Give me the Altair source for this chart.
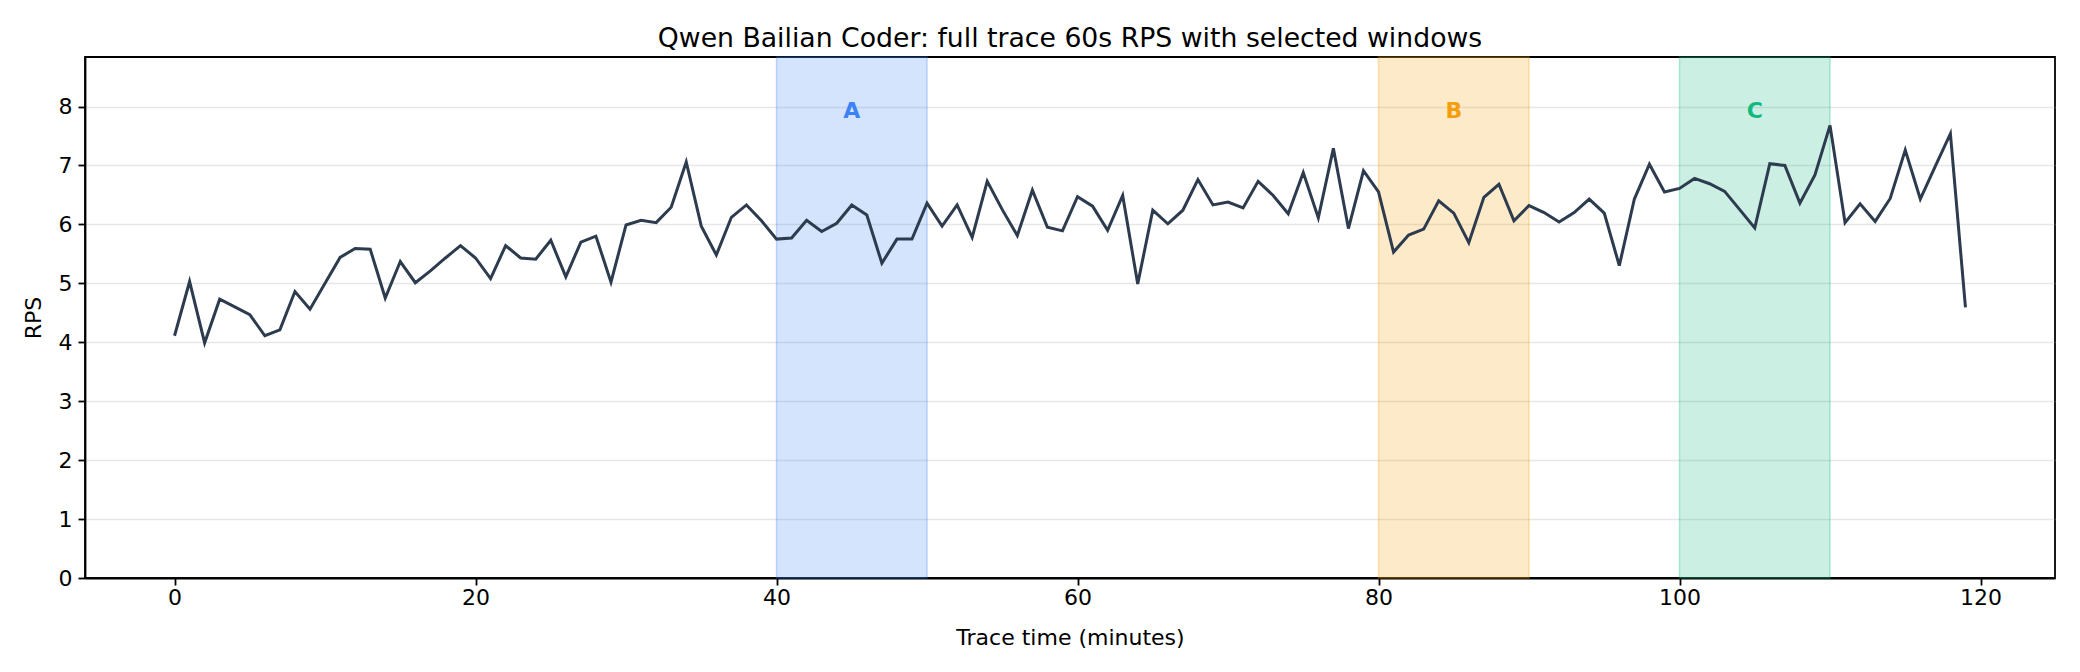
import altair as alt
import pandas as pd

# RPS per minute (60s buckets)
rps = [
    4.11, 5.03, 3.99, 4.73, 4.60, 4.47, 4.11, 4.21, 4.86, 4.56,
    5.00, 5.44, 5.59, 5.58, 4.75, 5.37, 5.01, 5.21, 5.43, 5.64,
    5.43, 5.08, 5.64, 5.43, 5.41, 5.73, 5.11, 5.70, 5.80, 5.02,
    5.99, 6.07, 6.03, 6.29, 7.06, 5.97, 5.48, 6.12, 6.33, 6.06,
    5.75, 5.77, 6.07, 5.88, 6.02, 6.33, 6.16, 5.34, 5.75, 5.75,
    6.36, 5.97, 6.33, 5.78, 6.73, 6.25, 5.81, 6.58, 5.95, 5.89,
    6.47, 6.31, 5.90, 6.49, 4.99, 6.24, 6.01, 6.24, 6.76, 6.33,
    6.38, 6.28, 6.73, 6.49, 6.18, 6.88, 6.11, 7.29, 5.93, 6.91,
    6.55, 5.53, 5.82, 5.92, 6.40, 6.19, 5.69, 6.46, 6.68, 6.06,
    6.32, 6.20, 6.04, 6.20, 6.43, 6.19, 5.30, 6.43, 7.02, 6.55,
    6.61, 6.78, 6.69, 6.56, 6.25, 5.94, 7.03, 7.00, 6.36, 6.84,
    7.68, 6.03, 6.35, 6.05, 6.44, 7.26, 6.43, 6.99, 7.54, 4.59,
]
minutes = list(range(len(rps)))

# selected windows
win_labels = ["A", "B", "C"]
win_start = [40, 80, 100]
win_end = [50, 90, 110]
win_colors = ["#3b82f6", "#f59e0b", "#10b981"]
win_label_y = [7.92, 7.92, 7.92]

Y_MAX = 8.84
X_DOMAIN = [-5.95, 124.95]

trace = pd.DataFrame({"minute": minutes, "rps": rps})
windows = pd.DataFrame({
    "label": win_labels,
    "start": win_start,
    "end": win_end,
    "mid": [(s + e) / 2 for s, e in zip(win_start, win_end)],
    "ypos": win_label_y,
})

x_scale = alt.Scale(domain=X_DOMAIN, nice=False, zero=False)
y_scale = alt.Scale(domain=[0, Y_MAX], nice=False)
color_scale = alt.Scale(domain=win_labels, range=win_colors)

spans = alt.Chart(windows).mark_rect(
    fillOpacity=0.22, strokeOpacity=0.3, strokeWidth=1.5
).encode(
    x=alt.X("start:Q", scale=x_scale),
    x2="end:Q",
    color=alt.Color("label:N", scale=color_scale, legend=None),
    stroke=alt.Stroke("label:N", scale=color_scale, legend=None),
)

line = alt.Chart(trace).mark_line(color="#2d3b4e", strokeWidth=3).encode(
    x=alt.X(
        "minute:Q", scale=x_scale, title="Trace time (minutes)",
        axis=alt.Axis(values=[0, 20, 40, 60, 80, 100, 120], grid=False, format="d",
                      labelPadding=2, titlePadding=19),
    ),
    y=alt.Y(
        "rps:Q", scale=y_scale, title="RPS",
        axis=alt.Axis(values=list(range(9)), grid=True, format="d",
                      labelPadding=6, titlePadding=13),
    ),
)

labels = alt.Chart(windows).mark_text(
    font="DejaVu Sans", fontSize=22, fontWeight="bold", baseline="middle", align="center"
).encode(
    x=alt.X("mid:Q", scale=x_scale),
    y=alt.Y("ypos:Q", scale=y_scale),
    text="label:N",
    color=alt.Color("label:N", scale=color_scale, legend=None),
)

chart = alt.layer(spans, line, labels).properties(
    width=1970,
    height=521,
    autosize=alt.AutoSizeParams(type="none"),
    padding={"left": 77, "top": 49, "right": 12, "bottom": 78},
    title=alt.TitleParams(
        "Qwen Bailian Coder: full trace 60s RPS with selected windows",
        font="DejaVu Sans", fontSize=26.7, fontWeight="normal", color="black",
        anchor="middle", offset=4,
    ),
).configure_view(
    stroke="black", strokeWidth=1.8
).configure_axis(
    labelFont="DejaVu Sans", labelFontSize=22, labelColor="black",
    titleFont="DejaVu Sans", titleFontSize=22, titleFontWeight="normal", titleColor="black",
    domainColor="black", domainWidth=1.8, tickColor="black", tickWidth=1.8, tickSize=7,
    gridColor="#b0b0b0", gridOpacity=0.3, gridWidth=1.6,
)

chart.save("out.html", embed_options={"renderer": "svg", "actions": False})
